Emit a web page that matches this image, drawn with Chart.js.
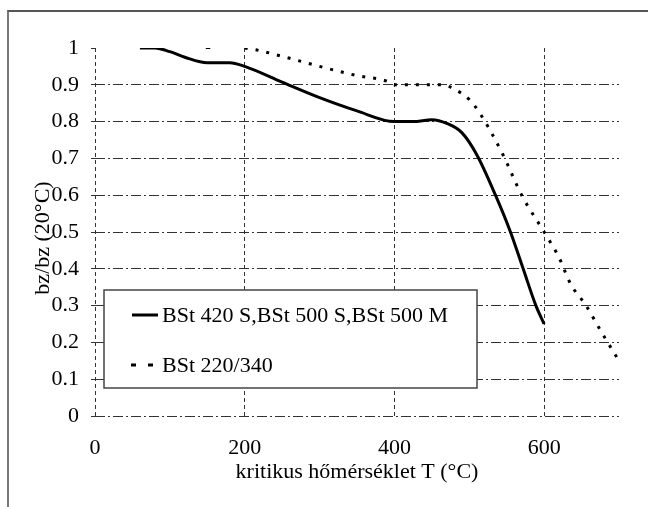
<!DOCTYPE html>
<html>
<head>
<meta charset="utf-8">
<script src="https://cdn.jsdelivr.net/npm/chart.js@4.4.1/dist/chart.umd.min.js"></script>
<style>
  body { margin: 0; background: #fff; }
  #wrap { position: relative; width: 648px; height: 507px; }
  #frame { position: absolute; left: 7px; top: 10px; right: 0; bottom: 0;
           border-top: 2px solid #555; border-left: 2px solid #777; pointer-events: none; }
</style>
</head>
<body>
<div id="wrap">
  <canvas id="graph"></canvas>
  <div id="frame"></div>
</div>
<script>
// tick values
const xTicks = [0, 200, 400, 600];
const yTicks = [0, 0.1, 0.2, 0.3, 0.4, 0.5, 0.6, 0.7, 0.8, 0.9, 1];

// BSt 420 S, BSt 500 S, BSt 500 M (solid)
const solidT = [60, 80, 100, 120, 150, 180, 200, 250, 300, 350, 400, 425, 450, 470, 490, 510, 535, 555, 572, 589, 600];
const solidV = [1, 1, 0.99, 0.975, 0.96, 0.96, 0.95, 0.907, 0.865, 0.829, 0.8, 0.8, 0.805, 0.795, 0.77, 0.71, 0.6, 0.5, 0.4, 0.3, 0.25];

// BSt 220/340 (dotted)
const dotT = [200, 215, 260, 300, 350, 390, 400, 425, 465, 480, 500, 515, 545, 570, 600, 620, 635, 656, 676, 700];
const dotV = [1, 0.995, 0.972, 0.95, 0.925, 0.91, 0.9, 0.9, 0.9, 0.888, 0.86, 0.82, 0.71, 0.6, 0.5, 0.43, 0.36, 0.3, 0.23, 0.15];

// small stray dash near T=150 at the top
const strayT = [148, 154];
const strayV = [1, 1];

const legendLabels = ["BSt 420 S,BSt 500 S,BSt 500 M", "BSt 220/340"];
const xTitle = "kritikus hőmérséklet T (°C)";
const yTitle = "bz/bz (20°C)";

const FONT = "'Liberation Serif', 'Times New Roman', serif";

function pts(xs, ys) { return xs.map((x, i) => ({ x: x, y: ys[i] })); }

// legend box + rotated y title
const extras = {
    id: "extras",
    afterDraw(chart) {
        const ctx = chart.ctx;
        const a = chart.chartArea;
        ctx.save();
        // legend box
        const L = a.left + 9, T = 290, W = 373, H = 98;
        ctx.fillStyle = "#fff";
        ctx.fillRect(L, T, W, H);
        ctx.strokeStyle = "#444";
        ctx.lineWidth = 1.5;
        ctx.strokeRect(L, T, W, H);

        ctx.fillStyle = "#000";
        ctx.font = "22px " + FONT;
        ctx.textBaseline = "middle";
        ctx.textAlign = "left";

        ctx.strokeStyle = "#000";
        ctx.lineWidth = 3;
        ctx.beginPath();
        ctx.moveTo(L + 28, 315); ctx.lineTo(L + 54, 315);
        ctx.stroke();
        ctx.fillText(legendLabels[0], L + 58, 316);

        ctx.setLineDash([5, 12]);
        ctx.beginPath();
        ctx.moveTo(L + 27, 365); ctx.lineTo(L + 49, 365);
        ctx.stroke();
        ctx.setLineDash([]);
        ctx.fillText(legendLabels[1], L + 58, 366);

        // y title
        ctx.translate(43, 238);
        ctx.rotate(-Math.PI / 2);
        ctx.textAlign = "center";
        ctx.fillText(yTitle, 0, 0);
        ctx.restore();
    }
};

const ctx = document.getElementById("graph").getContext("2d");
window.myChart = new Chart(ctx, {
    type: "line",
    data: {
        datasets: [{
            label: legendLabels[0],
            data: pts(solidT, solidV),
            borderColor: "#000",
            borderWidth: 3,
            pointRadius: 0,
            cubicInterpolationMode: "monotone",
            fill: false
        }, {
            label: legendLabels[1],
            data: pts(dotT, dotV),
            borderColor: "#000",
            borderWidth: 3,
            borderDash: [3, 8],
            pointRadius: 0,
            cubicInterpolationMode: "monotone",
            fill: false
        }, {
            label: "",
            data: pts(strayT, strayV),
            borderColor: "#000",
            borderWidth: 2,
            pointRadius: 0,
            fill: false
        }]
    },
    options: {
        animation: false,
        responsive: true,
        maintainAspectRatio: false,
        layout: { padding: { top: 48, right: 29, left: 0, bottom: 0 } },
        plugins: { legend: { display: false }, tooltip: { enabled: false } },
        scales: {
            x: {
                type: "linear",
                min: 0,
                max: 700,
                afterBuildTicks: s => { s.ticks = xTicks.map(v => ({ value: v })); },
                afterFit: s => { s.height = 91; },
                border: { display: false, dash: [4, 3] },
                grid: { color: "#333", lineWidth: 1, drawTicks: false },
                ticks: { color: "#000", font: { family: FONT, size: 22 }, padding: 19, maxRotation: 0 },
                title: { display: true, text: xTitle, color: "#000", font: { family: FONT, size: 22 }, padding: { top: 0, bottom: 22 } }
            },
            y: {
                min: 0,
                max: 1,
                afterBuildTicks: s => { s.ticks = yTicks.map(v => ({ value: v })); },
                afterFit: s => { s.width = 95; },
                border: { display: false, dash: [10, 3, 2, 3] },
                grid: {
                    color: c => (c.tick && c.tick.value === 1 ? "rgba(0,0,0,0)" : "#333"),
                    lineWidth: 1,
                    tickLength: 4,
                    tickColor: "#333"
                },
                ticks: {
                    color: "#000",
                    font: { family: FONT, size: 22 },
                    padding: 12,
                    callback: v => String(Math.round(v * 10) / 10)
                }
            }
        }
    },
    plugins: [extras]
});
</script>
</body>
</html>
